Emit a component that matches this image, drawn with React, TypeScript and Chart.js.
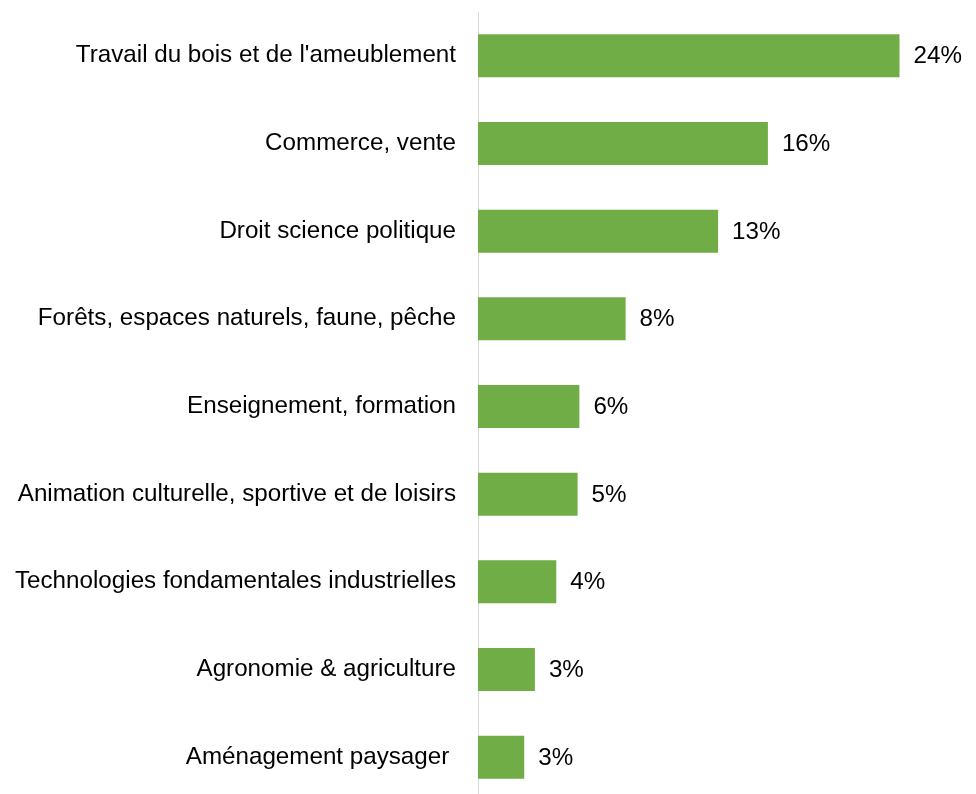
import React, { useEffect, useRef } from "react";
import { Chart, registerables } from "chart.js";

Chart.register(...registerables);

const categories = [
  "Travail du bois et de l'ameublement",
  "Commerce, vente",
  "Droit science politique",
  "Forêts, espaces naturels, faune, pêche",
  "Enseignement, formation",
  "Animation culturelle, sportive et de loisirs",
  "Technologies fondamentales industrielles",
  "Agronomie & agriculture",
  "Aménagement paysager ",
];

const values = [23.7, 16.3, 13.5, 8.3, 5.7, 5.6, 4.4, 3.2, 2.6];

const valueLabels = ["24%", "16%", "13%", "8%", "6%", "5%", "4%", "3%", "3%"];

const FONT = "'Liberation Sans', Arial, sans-serif";
const FONT_SIZE = 24.2;

const dataLabelPlugin = {
  id: "dataLabelPlugin",
  afterDatasetsDraw(chart: any) {
    const ctx = chart.ctx;
    const meta = chart.getDatasetMeta(0);
    ctx.save();
    ctx.font = `${FONT_SIZE}px ${FONT}`;
    ctx.fillStyle = "#000000";
    ctx.textAlign = "left";
    ctx.textBaseline = "middle";
    meta.data.forEach((bar: any, i: number) => {
      ctx.fillText(valueLabels[i], bar.x + 14, bar.y + 1);
    });
    ctx.restore();
  },
};

export default function App() {
  const canvasRef = useRef<HTMLCanvasElement | null>(null);

  useEffect(() => {
    document.body.style.margin = "0";
    const canvas = canvasRef.current;
    if (!canvas) return;
    const chart = new Chart(canvas, {
      type: "bar",
      data: {
        labels: categories,
        datasets: [
          {
            data: values,
            backgroundColor: "#70AD47",
            borderWidth: 0,
            barPercentage: 0.49,
            categoryPercentage: 1,
          },
        ],
      },
      options: {
        indexAxis: "y",
        responsive: false,
        animation: false,
        devicePixelRatio: 1,
        layout: { padding: { top: 12, bottom: 0, left: 0, right: 0 } },
        plugins: {
          legend: { display: false },
          tooltip: { enabled: false },
        },
        scales: {
          x: {
            display: false,
            min: 0,
            max: 28,
          },
          y: {
            grid: { display: false, drawTicks: false },
            border: { display: true, color: "#D9D9D9", width: 1 },
            ticks: {
              autoSkip: false,
              padding: 22,
              color: "#000000",
              font: { family: FONT, size: FONT_SIZE },
            },
            afterFit(scale: any) {
              scale.width = 478;
              scale.paddingTop = 0;
              scale.paddingBottom = 0;
            },
          },
        },
      },
      plugins: [dataLabelPlugin],
    });
    return () => chart.destroy();
  }, []);

  return (
    <div style={{ width: 976, height: 794, overflow: "hidden", background: "#ffffff" }}>
      <canvas ref={canvasRef} width={976} height={801} style={{ display: "block" }} />
    </div>
  );
}
